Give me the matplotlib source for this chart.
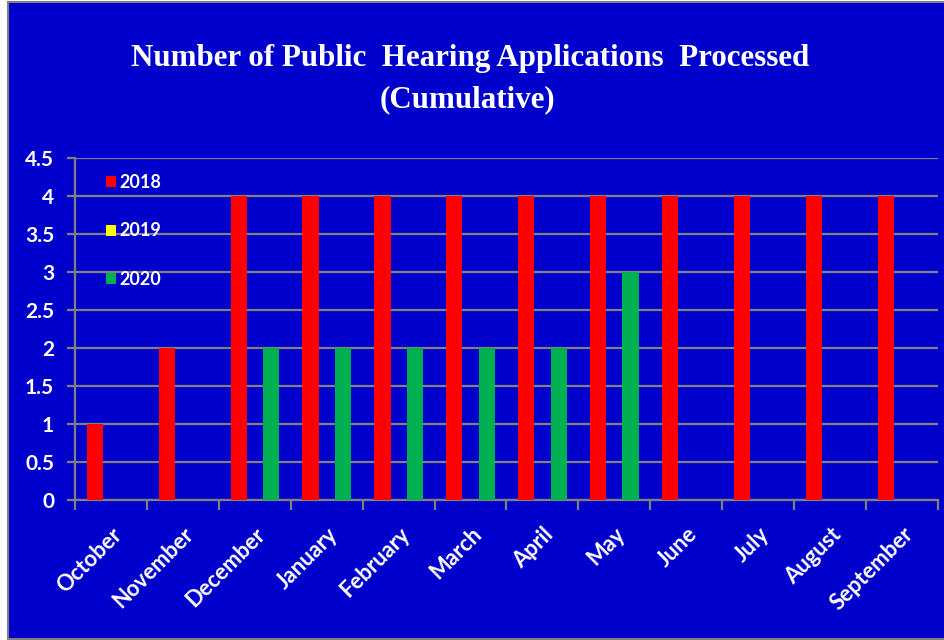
import matplotlib.pyplot as plt
from matplotlib.patches import Rectangle
import numpy as np

months = ['October', 'November', 'December', 'January', 'February', 'March',
          'April', 'May', 'June', 'July', 'August', 'September']
series_names = ['2018', '2019', '2020']
values_2018 = [1, 2, 4, 4, 4, 4, 4, 4, 4, 4, 4, 4]
values_2019 = [0, 0, 0, 0, 0, 0, 0, 0, 0, 0, 0, 0]
values_2020 = [0, 0, 2, 2, 2, 2, 2, 3, 0, 0, 0, 0]
y_ticks = [0, 0.5, 1, 1.5, 2, 2.5, 3, 3.5, 4, 4.5]

bg = '#0000CC'
grey = '#808080'
colors = ['#FF0000', '#FFFF00', '#00B050']

fig = plt.figure(figsize=(9.45, 6.4), dpi=100, facecolor='white')
fig.patches.append(Rectangle((8 / 945, 1 / 640), 1.0, 637 / 640,
                             transform=fig.transFigure, facecolor=bg,
                             edgecolor=grey, linewidth=1.5, zorder=-5))

ax = fig.add_axes([75 / 945, 140 / 640, 863 / 945, 342 / 640])
ax.set_facecolor(bg)

x = np.arange(len(months))
w = 0.225
for vals, off, c, name in zip([values_2018, values_2019, values_2020],
                              [-w, 0, w], colors, series_names):
    ax.bar(x + off, vals, width=w, color=c, label=name, zorder=3)

ax.set_xlim(-0.5, len(months) - 0.5)
ax.set_ylim(0, 4.5)
ax.set_yticks(y_ticks)
ax.set_yticklabels([('%g' % v) for v in y_ticks])
ax.yaxis.grid(True, color=grey, linewidth=1.6, zorder=1)
ax.set_axisbelow(True)

ax.set_xticks(np.arange(-0.5, len(months)), minor=False)
ax.set_xticklabels([])
ax.set_xticks(x, minor=True)
ax.set_xticklabels(months, minor=True, rotation=45, ha='right',
                   rotation_mode='anchor', color='white',
                   fontsize=15.8, fontweight='bold', family='Lato')
ax.tick_params(axis='x', which='major', length=7, width=1.6, color=grey,
               direction='out')
ax.tick_params(axis='x', which='minor', length=0, pad=17)
ax.tick_params(axis='y', length=6, width=1.6, color=grey, pad=9,
               labelcolor='white', labelsize=15)
for lbl in ax.get_yticklabels():
    lbl.set_fontweight('bold')
    lbl.set_family('Lato')

for side in ['top', 'right']:
    ax.spines[side].set_visible(False)
for side in ['left', 'bottom']:
    ax.spines[side].set_color(grey)
    ax.spines[side].set_linewidth(1.6)

leg = ax.legend(loc='upper left', bbox_to_anchor=(0.025, 0.98), frameon=False,
                handlelength=0.55, handleheight=0.55, handletextpad=0.2,
                labelspacing=1.75, borderpad=0,
                prop={'family': 'Lato', 'weight': 'bold', 'size': 13})
for t in leg.get_texts():
    t.set_color('white')

fig.text(0.498, 1 - 66 / 640, 'Number of Public  Hearing Applications  Processed',
         ha='center', va='baseline', color='white', fontsize=22.3,
         fontweight='bold', family='Liberation Serif')
fig.text(0.495, 1 - 107 / 640, '(Cumulative)',
         ha='center', va='baseline', color='white', fontsize=22.3,
         fontweight='bold', family='Liberation Serif')

fig.savefig('out.png', dpi=100, facecolor='white')
